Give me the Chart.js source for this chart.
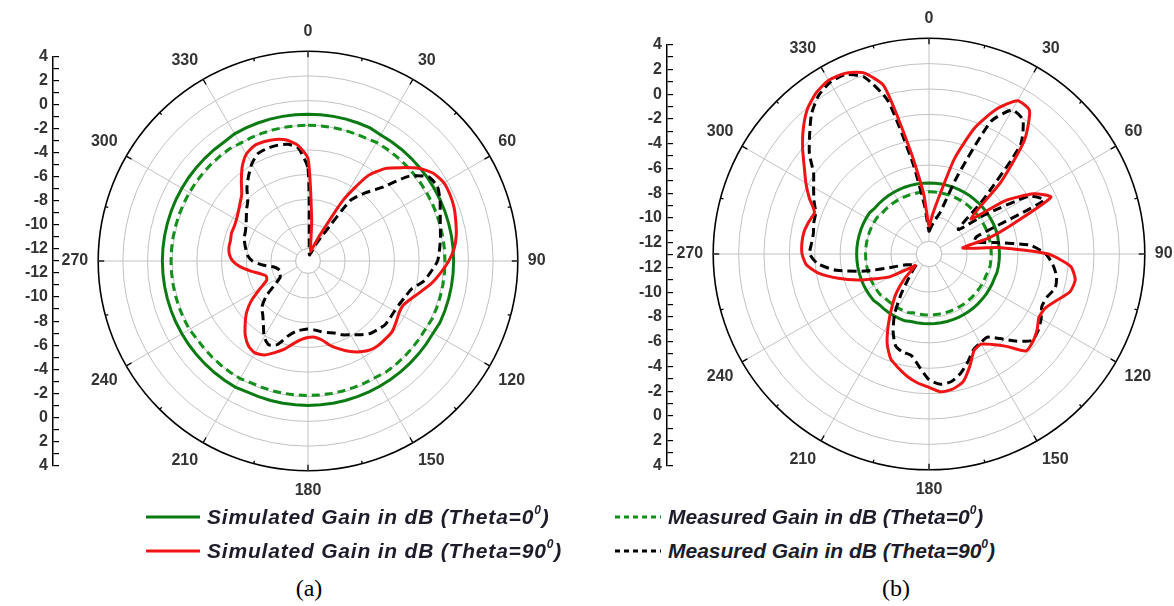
<!DOCTYPE html>
<html>
<head>
<meta charset="utf-8">
<script src="https://cdn.jsdelivr.net/npm/chart.js@4.4.1/dist/chart.umd.min.js"></script>
<style>
  html, body { margin: 0; padding: 0; background: #fff; width: 1174px; height: 606px; overflow: hidden; }
  canvas { position: absolute; }
  .leg { position: absolute; display: flex; align-items: center; height: 30px;
         font: italic bold 21px "Liberation Sans", Arial, sans-serif; color: #1c1c2a; white-space: nowrap; }
  .leg svg { margin-right: 7px; }
  .leg sup { font-size: 12px; position: relative; top: -2px; }
  .cap { position: absolute; font: 24px "Liberation Serif", "Times New Roman", serif; color: #000;
         transform: translateX(-50%); }
</style>
</head>
<body>
<canvas id="axis-a" width="54" height="438" style="left:5px; top:42px"></canvas>
<canvas id="polar-a" width="560" height="478" style="left:28px; top:22px"></canvas>
<canvas id="axis-b" width="54" height="450" style="left:619px; top:30px"></canvas>
<canvas id="polar-b" width="560" height="490" style="left:649px; top:10px"></canvas>
<div id="legend"></div>
<div class="cap" style="left:309px; top:575px">(a)</div>
<div class="cap" style="left:896px; top:575px">(b)</div>

<script>
// ============================================================
//  Polar gain patterns (a) / (b) — Chart.js radar
// ============================================================

// angle every 5 deg, 0 at top, clockwise
const ANGLES = Array.from({ length: 72 }, (_, i) => i * 5);
const ANGLE_TICKS = [0, 30, 60, 90, 120, 150, 180, 210, 240, 270, 300, 330];
const GAIN_TICKS  = [-12, -10, -8, -6, -4, -2, 0, 2, 4];
const R_MIN = -13;   // centre of the plot
const R_MAX = 4;

// ---- (a) ----
const simT0_a = [
  -1.1,-1.1,-1.1,-1.1,-1.1,-1.1,-1.2,-1.2,-1.2,-1.2,-1.2,-1.2,-1.2,-1.2,-1.2,-1.2,-1.2,-1.2,
  -1.2,-1.2,-1.2,-1.2,-1.2,-1.2,-1.3,-1.3,-1.3,-1.3,-1.3,-1.3,-1.3,-1.3,-1.3,-1.3,-1.3,-1.3,
  -1.3,-1.3,-1.3,-1.3,-1.3,-1.3,-1.2,-1.2,-1.2,-1.2,-1.2,-1.2,-1.2,-1.2,-1.2,-1.2,-1.2,-1.2,
  -1.2,-1.2,-1.2,-1.2,-1.2,-1.2,-1.2,-1.2,-1.2,-1.2,-1.2,-1.2,-1.1,-1.1,-1.1,-1.1,-1.1,-1.1
];
const measT0_a = [
  -2.0,-2.0,-2.0,-2.0,-2.0,-2.0,-1.9,-1.9,-1.9,-1.9,-1.9,-1.9,-1.9,-1.9,-1.9,-1.9,-1.9,-1.9,
  -1.9,-1.9,-1.9,-1.9,-1.9,-1.9,-2.0,-2.0,-2.0,-2.0,-2.0,-2.0,-2.1,-2.1,-2.1,-2.1,-2.1,-2.1,
  -2.1,-2.1,-2.1,-2.1,-2.1,-2.1,-2.0,-2.0,-2.0,-2.0,-2.0,-2.0,-1.9,-1.9,-1.9,-1.9,-1.9,-1.9,
  -1.9,-1.9,-1.9,-1.9,-1.9,-1.9,-1.9,-1.9,-1.9,-1.9,-1.9,-1.9,-2.0,-2.0,-2.0,-2.0,-2.0,-2.0
];
const simT90_a = [
  -4.7,-9.6,-11.8,-12.2,-11.8,-10.6,-7.3,-4.6,-3.2,-2.3,-1.3,-0.6,-0.3,-0.3,-0.4,-0.6,-0.8,-1.1,
  -1.6,-2.2,-2.8,-3.5,-4.1,-4.5,-4.5,-4.3,-4.1,-4.1,-4.1,-4.2,-4.5,-4.9,-5.4,-5.9,-6.5,-6.8,
  -6.8,-6.6,-6.2,-5.6,-5.1,-4.6,-4.4,-4.6,-5.1,-5.8,-6.5,-7.4,-8.5,-9.3,-9.4,-9.0,-8.3,-7.5,
  -6.9,-6.6,-6.5,-6.5,-6.4,-6.4,-6.3,-6.1,-5.8,-5.4,-4.6,-3.7,-3.0,-2.7,-2.7,-2.8,-3.05,-3.6
];
const measT90_a = [
  -5.5,-11.8,-12.4,-12.5,-12.3,-11.5,-10.5,-7.0,-5.8,-4.6,-2.3,-1.1,-0.9,-1.2,-1.6,-1.9,-2.1,-2.3,
  -2.5,-3.0,-3.5,-4.3,-4.6,-4.8,-4.9,-4.9,-4.9,-5.1,-5.3,-5.7,-6.1,-6.4,-6.8,-7.0,-7.2,-7.4,
  -7.5,-7.4,-7.2,-6.7,-5.8,-5.5,-5.9,-6.7,-7.3,-7.7,-8.6,-9.8,-10.4,-10.5,-10.6,-10.5,-10.2,-9.3,
  -8.5,-8.1,-7.9,-7.7,-7.5,-7.4,-7.2,-6.9,-6.5,-6.1,-5.3,-4.6,-3.9,-3.4,-3.3,-3.3,-3.4,-3.8
];

// ---- (b) ----
const simT0_b = [
  -7.4,-7.4,-7.4,-7.4,-7.4,-7.4,-7.4,-7.4,-7.4,-7.4,-7.4,-7.4,-7.4,-7.4,-7.4,-7.4,-7.45,-7.45,
  -7.45,-7.45,-7.45,-7.45,-7.5,-7.5,-7.5,-7.5,-7.5,-7.5,-7.5,-7.5,-7.5,-7.5,-7.5,-7.5,-7.5,-7.5,
  -7.5,-7.5,-7.5,-7.5,-7.4,-7.4,-7.4,-7.4,-7.4,-7.4,-7.3,-7.3,-7.3,-7.3,-7.3,-7.3,-7.3,-7.3,
  -7.3,-7.3,-7.3,-7.3,-7.3,-7.3,-7.3,-7.3,-7.4,-7.4,-7.4,-7.4,-7.4,-7.4,-7.4,-7.4,-7.4,-7.4
];
const measT0_b = [
  -8.1,-8.1,-8.1,-8.1,-8.1,-8.1,-8.1,-8.1,-8.1,-8.1,-8.1,-8.1,-8.1,-8.1,-8.1,-8.1,-8.1,-8.1,
  -8.1,-8.1,-8.1,-8.1,-8.2,-8.2,-8.2,-8.2,-8.2,-8.2,-8.2,-8.2,-8.2,-8.2,-8.2,-8.2,-8.2,-8.2,
  -8.2,-8.2,-8.2,-8.2,-8.1,-8.1,-8.1,-8.1,-8.1,-8.1,-8.0,-8.0,-8.0,-8.0,-8.0,-8.0,-8.0,-8.0,
  -8.0,-8.0,-8.0,-8.0,-8.0,-8.0,-8.0,-8.0,-8.1,-8.1,-8.1,-8.1,-8.1,-8.1,-8.1,-8.1,-8.1,-8.1
];
const simT90_b = [
  -10.8,-9.9,-8.4,-5.2,-2.4,-0.4,0.95,0.8,-1.3,-5.0,-8.7,-5.7,-3.5,-2.4,-5.8,-8.1,-10.3,-7.3,
  -3.6,-1.8,-1.3,-1.5,-2.3,-2.9,-3.0,-2.6,-2.3,-2.2,-3.5,-4.3,-4.8,-4.6,-3.6,-2.6,-2.2,-2.1,
  -2.5,-2.8,-3.2,-3.7,-4.2,-5.2,-6.6,-7.9,-9.0,-10.3,-11.6,-10.9,-9.4,-8.4,-7.0,-5.6,-4.2,-3.3,
  -3.0,-2.95,-3.0,-3.2,-3.4,-2.6,-1.8,-1.0,0.0,1.0,1.9,2.5,2.8,2.7,2.2,0.7,-4.9,-8.3
];
const measT90_b = [
  -11.2,-10.8,-10.3,-9.6,-6.5,-1.5,0.1,-0.1,-1.8,-7.0,-10.0,-7.6,-3.9,-3.0,-9.0,-9.3,-7.8,-5.0,
  -3.8,-3.2,-2.8,-2.7,-3.1,-3.2,-2.8,-2.5,-2.4,-3.3,-4.3,-5.0,-4.9,-4.7,-4.0,-3.3,-2.8,-2.7,
  -3.1,-4.1,-4.9,-5.0,-5.3,-6.3,-7.6,-9.2,-10.5,-11.2,-11.7,-11.6,-11.3,-11.0,-10.0,-7.8,-5.6,-4.2,
  -3.6,-3.7,-3.75,-3.6,-3.5,-3.0,-2.5,-1.9,-0.7,0.3,1.4,2.2,2.6,2.6,1.8,-0.5,-5.8,-9.3
];

const LABELS = [
  'Simulated Gain in dB (Theta=0<sup>0</sup>)',
  'Simulated Gain in dB (Theta=90<sup>0</sup>)',
  'Measured Gain in dB (Theta=0<sup>0</sup>)',
  'Measured Gain in dB (Theta=90<sup>0</sup>)'
];

const GREEN  = '#0b7a12';
const GREEN2 = '#13901b';
const RED    = '#f01414';
const BLACK  = '#000000';
const GRID   = '#c2c2c2';
const FONT   = '"Liberation Sans", Arial, sans-serif';

// style per series: sim0, sim90, meas0, meas90
const STYLES = [
  { color: GREEN,  dash: [] },
  { color: RED,    dash: [] },
  { color: GREEN2, dash: [8, 5] },
  { color: BLACK,  dash: [9, 5] }
];

function ds(i, data) {
  return {
    label: LABELS[i],
    data: data,
    borderColor: STYLES[i].color,
    borderDash: STYLES[i].dash,
    borderWidth: 3,
    backgroundColor: 'transparent',
    fill: false,
    pointRadius: 0,
    tension: i % 2 ? 0.2 : 0
  };
}

// white hole in the middle + small ticks on the outer ring
const polarFrame = {
  id: 'polarFrame',
  beforeDatasetsDraw(chart) {
    const r = chart.scales.r;
    const ctx = chart.ctx;
    const rIn = r.getDistanceFromCenterForValue(GAIN_TICKS[0]);
    const rOut = r.getDistanceFromCenterForValue(R_MAX);
    ctx.save();
    ctx.beginPath();
    ctx.arc(r.xCenter, r.yCenter, rIn, 0, Math.PI * 2);
    ctx.fillStyle = '#fff';
    ctx.fill();
    ctx.strokeStyle = GRID;
    ctx.lineWidth = 1;
    ctx.stroke();
    ctx.strokeStyle = '#000';
    ctx.lineWidth = 1.3;
    ANGLES.forEach((a, i) => {
      if (a % 15) return;
      const len = ANGLE_TICKS.includes(a) ? 6 : 3;
      const p1 = r.getPointPosition(i, rOut);
      const p2 = r.getPointPosition(i, rOut - len);
      ctx.beginPath();
      ctx.moveTo(p1.x, p1.y);
      ctx.lineTo(p2.x, p2.y);
      ctx.stroke();
    });
    ctx.restore();
  }
};

function makePolar(id, sim0, sim90, meas0, meas90) {
  new Chart(document.getElementById(id), {
    type: 'radar',
    data: {
      labels: ANGLES,
      // first dataset is drawn on top
      datasets: [ds(1, sim90), ds(3, meas90), ds(0, sim0), ds(2, meas0)]
    },
    plugins: [polarFrame],
    options: {
      responsive: false,
      animation: false,
      plugins: { legend: { display: false }, tooltip: { enabled: false } },
      scales: {
        r: {
          min: R_MIN,
          max: R_MAX,
          afterBuildTicks: s => { s.ticks = GAIN_TICKS.map(v => ({ value: v })); },
          ticks: { display: false },
          grid: {
            circular: true,
            color: c => (c.tick && c.tick.value === R_MAX) ? '#000' : GRID,
            lineWidth: c => (c.tick && c.tick.value === R_MAX) ? 1.6 : 1
          },
          angleLines: {
            color: c => ANGLE_TICKS.includes(ANGLES[c.index]) ? GRID : 'rgba(0,0,0,0)',
            lineWidth: 1
          },
          pointLabels: {
            padding: 10,
            color: '#333',
            font: { family: FONT, size: 16, weight: 'bold' },
            callback: (l) => ANGLE_TICKS.includes(l) ? String(l) : ''
          }
        }
      }
    }
  });
}

// vertical gain axis, mirrored about the centre: 4 .. -12 | -12 .. 4
const SPAN = R_MAX - R_MIN;
const AXIS_STEPS = Array.from({ length: 2 * SPAN + 1 }, (_, i) => i - SPAN);

function makeAxis(id) {
  new Chart(document.getElementById(id), {
    type: 'line',
    data: { datasets: [] },
    options: {
      responsive: false,
      animation: false,
      layout: { padding: { top: 10, bottom: 10, left: 0, right: 0 } },
      plugins: { legend: { display: false }, tooltip: { enabled: false } },
      scales: {
        x: { type: 'linear', display: false, min: 0, max: 1 },
        y: {
          min: -SPAN,
          max: SPAN,
          afterFit: s => { s.width = 48; },
          afterBuildTicks: s => { s.ticks = AXIS_STEPS.map(v => ({ value: v })); },
          ticks: {
            autoSkip: false,
            padding: 5,
            color: '#333',
            font: { family: FONT, size: 16, weight: 'bold' },
            callback: v => {
              const g = R_MIN + Math.abs(v);
              return GAIN_TICKS.includes(g) ? String(g) : '';
            }
          },
          grid: { drawOnChartArea: true, drawTicks: false, color: '#000', lineWidth: 1.2 },
          border: { display: true, color: '#000', width: 1.5 }
        }
      }
    }
  });
}

makeAxis('axis-a');
makeAxis('axis-b');
makePolar('polar-a', simT0_a, simT90_a, measT0_a, measT90_a);
makePolar('polar-b', simT0_b, simT90_b, measT0_b, measT90_b);

// legend (two columns under the plots)
function legendItem(i, left, top, spacing) {
  const st = STYLES[i];
  const el = document.createElement('div');
  el.className = 'leg';
  el.style.left = left + 'px';
  el.style.top = top + 'px';
  el.style.letterSpacing = spacing + 'px';
  const w = i < 2 ? 54 : 46;
  el.innerHTML =
    `<svg width="${w}" height="8"><line x1="0" y1="4" x2="${w}" y2="4" stroke="${st.color}" stroke-width="3"` +
    (st.dash.length ? ` stroke-dasharray="5 4"` : '') + `/></svg><span>${LABELS[i]}</span>`;
  document.getElementById('legend').appendChild(el);
}
legendItem(0, 146, 502, 0.8);
legendItem(1, 146, 536, 0.8);
legendItem(2, 615, 502, 0);
legendItem(3, 615, 536, 0);
</script>
</body>
</html>
